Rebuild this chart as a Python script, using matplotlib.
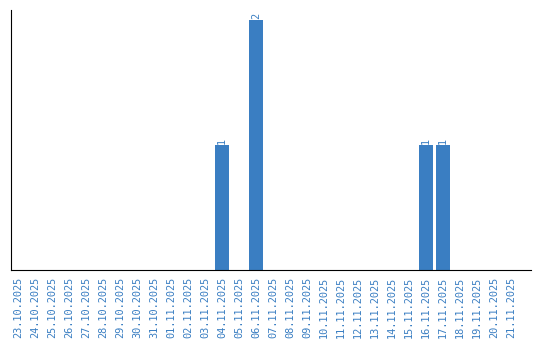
import matplotlib
matplotlib.use("Agg")
from matplotlib import pyplot as plt

dates = ["23.10.2025", "24.10.2025", "25.10.2025", "26.10.2025", "27.10.2025",
         "28.10.2025", "29.10.2025", "30.10.2025", "31.10.2025", "01.11.2025",
         "02.11.2025", "03.11.2025", "04.11.2025", "05.11.2025", "06.11.2025",
         "07.11.2025", "08.11.2025", "09.11.2025", "10.11.2025", "11.11.2025",
         "12.11.2025", "13.11.2025", "14.11.2025", "15.11.2025", "16.11.2025",
         "17.11.2025", "18.11.2025", "19.11.2025", "20.11.2025", "21.11.2025"]
counts = [0, 0, 0, 0, 0, 0, 0, 0, 0, 0,
          0, 0, 1, 0, 2, 0, 0, 0, 0, 0,
          0, 0, 0, 0, 1, 1, 0, 0, 0, 0]

blue = "#3a7ec2"

fig = plt.figure(figsize=(5.4, 3.4), dpi=100)
ax = fig.add_axes([0.0204, 0.2059, 0.9629, 0.7647])

x = list(range(len(dates)))
bars = ax.bar(x, counts, width=0.82, color=blue)

# value labels above the bars
for xi, c in zip(x, counts):
    if c > 0:
        ax.text(xi, c + 0.01, str(c), rotation=90, ha="center", va="bottom",
                color=blue, fontsize=7.4, family="DejaVu Sans Mono")

ax.set_xlim(-0.41, 30.18)
ax.set_ylim(0, 2.08)
ax.set_xticks(x)
ax.set_xticklabels(dates, rotation=90, color=blue, fontsize=7.4,
                   family="DejaVu Sans Mono")
ax.tick_params(axis="x", length=0, pad=5)
ax.set_yticks([])
ax.spines["top"].set_visible(False)
ax.spines["right"].set_visible(False)

fig.savefig("out.png", dpi=100)
